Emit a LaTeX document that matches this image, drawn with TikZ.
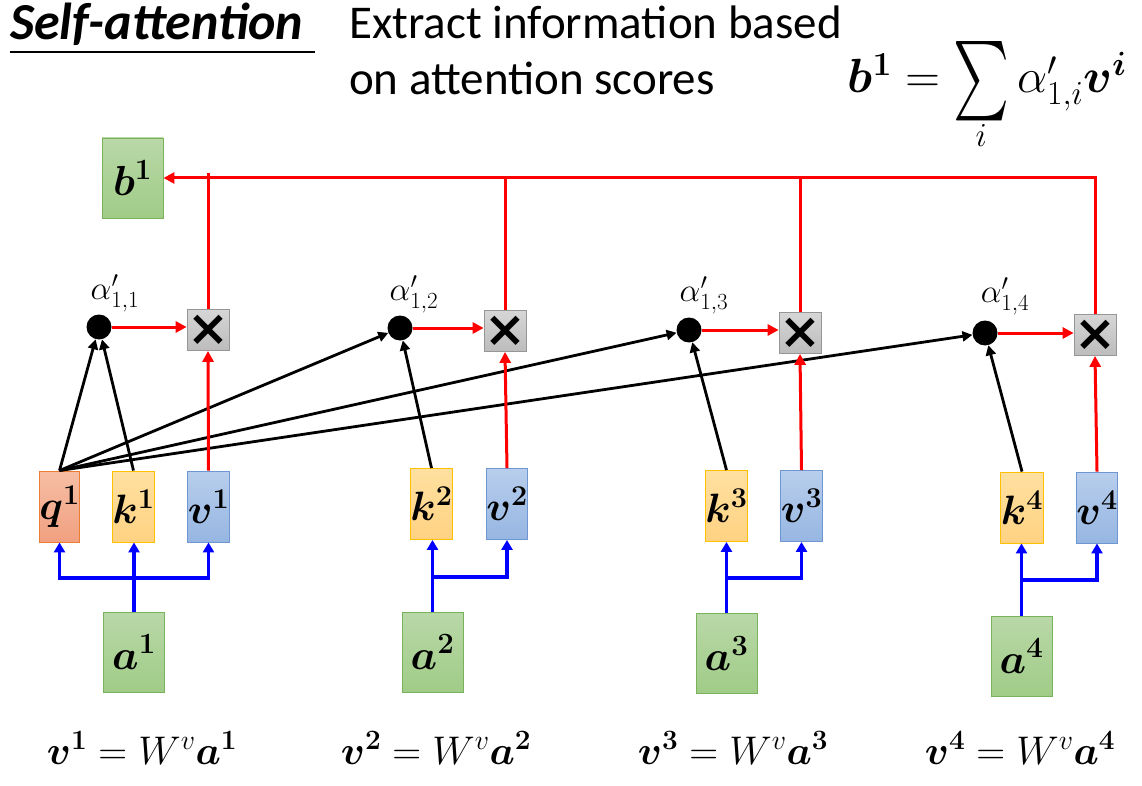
\RequirePackage{fix-cm}
\documentclass[tikz,border=0pt]{standalone}
\usepackage{amsmath}
\usepackage{graphicx}
\usepackage{bm}
\usepackage{fontspec}
\newfontfamily\calibri{Carlito}
\newfontfamily\dejavu{DejaVu Sans}
\usetikzlibrary{arrows.meta}

\definecolor{grnfill}{RGB}{185,216,168}
\definecolor{grnfillb}{RGB}{160,204,135}
\definecolor{grnline}{RGB}{120,178,90}
\definecolor{qfill}{RGB}{246,190,165}
\definecolor{qfillb}{RGB}{241,160,128}
\definecolor{qline}{RGB}{237,125,49}
\definecolor{kfill}{RGB}{255,224,160}
\definecolor{kfillb}{RGB}{255,210,130}
\definecolor{kline}{RGB}{255,192,0}
\definecolor{vfill}{RGB}{184,206,236}
\definecolor{vfillb}{RGB}{150,182,226}
\definecolor{vline}{RGB}{110,150,210}
\definecolor{mulfill}{RGB}{214,214,214}
\definecolor{mulfillb}{RGB}{188,188,188}

\newcommand{\bigsum}{\mathop{\vcenter{\hbox{\resizebox{56pt}{78pt}{$\sum$}}}}\limits}

\tikzset{
  vecbox/.style={draw, inner sep=0pt, line width=0.9pt, minimum width=39pt, minimum height=71pt,
    font=\fontsize{41}{44}\selectfont},
  qbox/.style={vecbox, draw=qline, top color=qfill, bottom color=qfillb},
  kbox/.style={vecbox, draw=kline, top color=kfill, bottom color=kfillb},
  vbox/.style={vecbox, draw=vline, top color=vfill, bottom color=vfillb},
  inbox/.style={vecbox, draw=grnline, top color=grnfill, bottom color=grnfillb,
    minimum width=61pt, minimum height=80pt, font=\fontsize{42}{44}\selectfont},
  mulbox/.style={draw=mulfillb!80!black, line width=0.8pt, inner sep=0pt, minimum width=40pt, minimum height=41pt,
    top color=mulfill, bottom color=mulfillb, font=\dejavu\bfseries\fontsize{50}{50}\selectfont},
  score/.style={circle, fill=black, inner sep=0pt, minimum size=25pt},
  scorelab/.style={font=\fontsize{33}{36}\selectfont},
  eqn/.style={font=\fontsize{40}{44}\selectfont},
  redarr/.style={red, line width=3pt, -{Triangle[length=11pt,width=11pt]}},
  redline/.style={red, line width=3pt},
  blkarr/.style={black, line width=2.8pt, -{Triangle[length=10pt,width=10pt]}},
  bluearr/.style={blue, line width=3.4pt, -{Triangle[length=10pt,width=11pt]}}
}

\begin{document}
\begin{tikzpicture}[x=1pt,y=-1pt]
\useasboundingbox (0,0) rectangle (1142,786);

% title and caption
\node[anchor=base west, inner sep=0pt, font=\calibri\bfseries\itshape\fontsize{52}{56}\selectfont] (title) at (10,40) {Self-attention};
\draw[line width=1.4pt] (10,52) -- (315,52);
\node[anchor=north west, align=left, inner sep=0pt, font=\calibri\fontsize{47}{56}\selectfont] (caption) at (349,6) {Extract information based\\on attention scores};
\node[anchor=base, inner sep=0pt, font=\fontsize{48}{54}\selectfont] (sumeq) at (987,93) {$\bm{b^1} = \bigsum_i \alpha'_{1,i}\bm{v^i}$};

% output
\node[inbox] (b1) at (132.5,178) {$\bm{b^1}$};

% scores and products
\node[score] (dot1) at (99,327) {};
\node[score] (dot2) at (400,328) {};
\node[score] (dot3) at (689,330) {};
\node[score] (dot4) at (985,333) {};
\node[scorelab] (al1) at (115,293) {$\alpha'_{1,1}$};
\node[scorelab] (al2) at (414,294) {$\alpha'_{1,2}$};
\node[scorelab] (al3) at (704,295) {$\alpha'_{1,3}$};
\node[scorelab] (al4) at (1005,296) {$\alpha'_{1,4}$};
\node[mulbox] (mul1) at (208,330) {×};
\node[mulbox] (mul2) at (505,331) {×};
\node[mulbox] (mul3) at (800,333) {×};
\node[mulbox] (mul4) at (1095,335) {×};

% q k v
\node[qbox] (q1) at (59.5,506.5) {$\bm{q^1}$};
\node[kbox] (k1) at (133.5,506.5) {$\bm{k^1}$};
\node[vbox] (v1) at (208.5,506.5) {$\bm{v^1}$};
\node[kbox] (k2) at (431.5,504) {$\bm{k^2}$};
\node[vbox] (v2) at (507,504) {$\bm{v^2}$};
\node[kbox] (k3) at (726.5,506) {$\bm{k^3}$};
\node[vbox] (v3) at (801.5,506) {$\bm{v^3}$};
\node[kbox] (k4) at (1022,507.5) {$\bm{k^4}$};
\node[vbox] (v4) at (1097,507.5) {$\bm{v^4}$};

% inputs
\node[inbox] (a1) at (134,652) {$\bm{a^1}$};
\node[inbox] (a2) at (432.5,652) {$\bm{a^2}$};
\node[inbox] (a3) at (726.5,653.5) {$\bm{a^3}$};
\node[inbox] (a4) at (1021.5,656) {$\bm{a^4}$};

% equations
\node[eqn] (eq1) at (142,748) {$\bm{v^1} = W^v\bm{a^1}$};
\node[eqn] (eq2) at (436,748) {$\bm{v^2} = W^v\bm{a^2}$};
\node[eqn] (eq3) at (733,748) {$\bm{v^3} = W^v\bm{a^3}$};
\node[eqn] (eq4) at (1020,748) {$\bm{v^4} = W^v\bm{a^4}$};

% blue: a -> q,k,v
\coordinate (j1) at (134,578);
\coordinate (j2) at (432.5,577);
\coordinate (j3) at (727.5,578);
\coordinate (j4) at (1022,580);
\draw[bluearr] (a1.north) -- (a1.north |- k1.south);
\draw[bluearr] (j1) -| (q1.south);
\draw[bluearr] (j1) -| (v1.south);
\draw[bluearr] (a2.north) -- (a2.north |- k2.south);
\draw[bluearr] (j2) -| (v2.south);
\draw[bluearr] (a3.north) -- (a3.north |- k3.south);
\draw[bluearr] (j3) -| (v3.south);
\draw[bluearr] (a4.north) -- (a4.north |- k4.south);
\draw[bluearr] (j4) -| (v4.south);

% black: q,k -> score
\draw[blkarr] (q1.north) -- (dot1);
\draw[blkarr] (q1.north) -- (dot2);
\draw[blkarr] (q1.north) -- (dot3);
\draw[blkarr] (q1.north) -- (dot4);
\draw[blkarr] (k1.north) -- (dot1);
\draw[blkarr] (k2.north) -- (dot2);
\draw[blkarr] (k3.north) -- (dot3);
\draw[blkarr] (k4.north) -- (dot4);

% red: weighting and sum
\draw[redarr] (dot1) -- (dot1 -| mul1.west);
\draw[redarr] (dot2) -- (dot2 -| mul2.west);
\draw[redarr] (dot3) -- (dot3 -| mul3.west);
\draw[redarr] (dot4) -- (dot4 -| mul4.west);
\draw[redarr] (v1.north) -- (mul1.south);
\draw[redarr] (v2.north) -- (mul2.south);
\draw[redarr] (v3.north) -- (mul3.south);
\draw[redarr] (v4.north) -- (mul4.south);
\draw[redarr] (mul4.north) |- (b1.east);
\draw[redline] (mul1.north) -- ([yshift=5pt]mul1.north |- b1.east);
\draw[redline] (mul2.north) -- (mul2.north |- b1.east);
\draw[redline] (mul3.north) -- (mul3.north |- b1.east);
\end{tikzpicture}
\end{document}
